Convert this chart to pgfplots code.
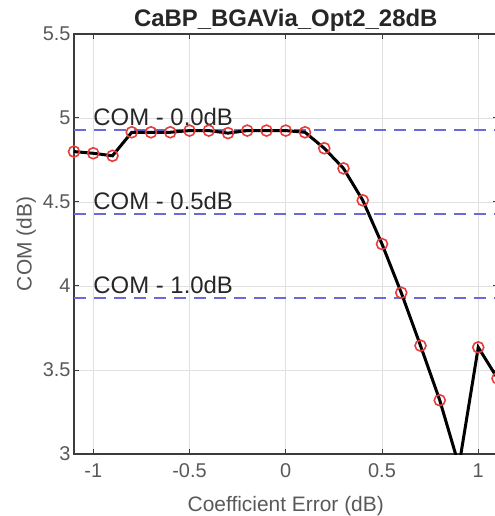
\documentclass[border=0pt]{standalone}
\usepackage{fontspec}
\setmainfont{Liberation Sans}
\usepackage{pgfplots}
\pgfplotsset{compat=1.18}
\definecolor{comblue}{RGB}{105,105,215}
\definecolor{mkred}{RGB}{230,60,60}
\definecolor{axgray}{RGB}{60,60,60}

\begin{document}
\begin{tikzpicture}
\begin{axis}[
  scale only axis,
  width=423.5bp, height=420bp,
  xmin=-1.1, xmax=1.1, ymin=3, ymax=5.5,
  xtick={-1,-0.5,0,0.5,1},
  ytick={3,3.5,4,4.5,5,5.5},
  tick align=inside,
  major tick length=5bp,
  grid=major,
  grid style={line width=0.8bp, black!12},
  axis line style={line width=1.3bp, axgray},
  tick style={line width=1bp, axgray},
  ticklabel style={font=\fontsize{20}{22}\selectfont, text=black!65},
  xticklabel style={yshift=-6bp},
  /pgf/number format/assume math mode=true,
  xlabel={Coefficient Error (dB)},
  ylabel={COM (dB)},
  label style={font=\fontsize{21}{23}\selectfont, text=black!65},
  xlabel style={yshift=-12bp},
  title={CaBP\_BGAVia\_Opt2\_28dB},
  title style={font=\bfseries\fontsize{24}{26}\selectfont, text=black!85, yshift=-7bp},
]
\coordinate (bl) at (rel axis cs:0,0);
% COM reference levels
\addplot[comblue, line width=2bp, dash pattern=on 12bp off 8bp] coordinates {(-1.1,4.93) (1.1,4.93)};
\addplot[comblue, line width=2bp, dash pattern=on 12bp off 8bp] coordinates {(-1.1,4.43) (1.1,4.43)};
\addplot[comblue, line width=2bp, dash pattern=on 12bp off 8bp] coordinates {(-1.1,3.93) (1.1,3.93)};
\node[anchor=base west, font=\fontsize{24}{26}\selectfont, text=black!85, inner sep=0pt, yshift=4bp] at (axis cs:-1.0,4.93) {COM - 0.0dB};
\node[anchor=base west, font=\fontsize{24}{26}\selectfont, text=black!85, inner sep=0pt, yshift=4bp] at (axis cs:-1.0,4.43) {COM - 0.5dB};
\node[anchor=base west, font=\fontsize{24}{26}\selectfont, text=black!85, inner sep=0pt, yshift=4bp] at (axis cs:-1.0,3.93) {COM - 1.0dB};
\pgfplotstableread{
x y
-1.1 4.80
-1.0 4.79
-0.9 4.775
-0.8 4.915
-0.7 4.915
-0.6 4.915
-0.5 4.925
-0.4 4.925
-0.3 4.91
-0.2 4.925
-0.1 4.925
0.0 4.925
0.1 4.915
0.2 4.82
0.3 4.70
0.4 4.51
0.5 4.25
0.6 3.96
0.7 3.645
0.8 3.32
0.9 2.93
1.0 3.635
1.1 3.45
}\comdata
\addplot[only marks, mark=o, mark size=5.5bp, mark options={mkred, line width=1.6bp}] table {\comdata};
\addplot[black, line width=3bp, no marks] table {\comdata};
\end{axis}
\pgfresetboundingbox
\path[use as bounding box] ([xshift=-74bp,yshift=-62bp]bl) rectangle ([xshift=421bp,yshift=454bp]bl);
\end{tikzpicture}
\end{document}
